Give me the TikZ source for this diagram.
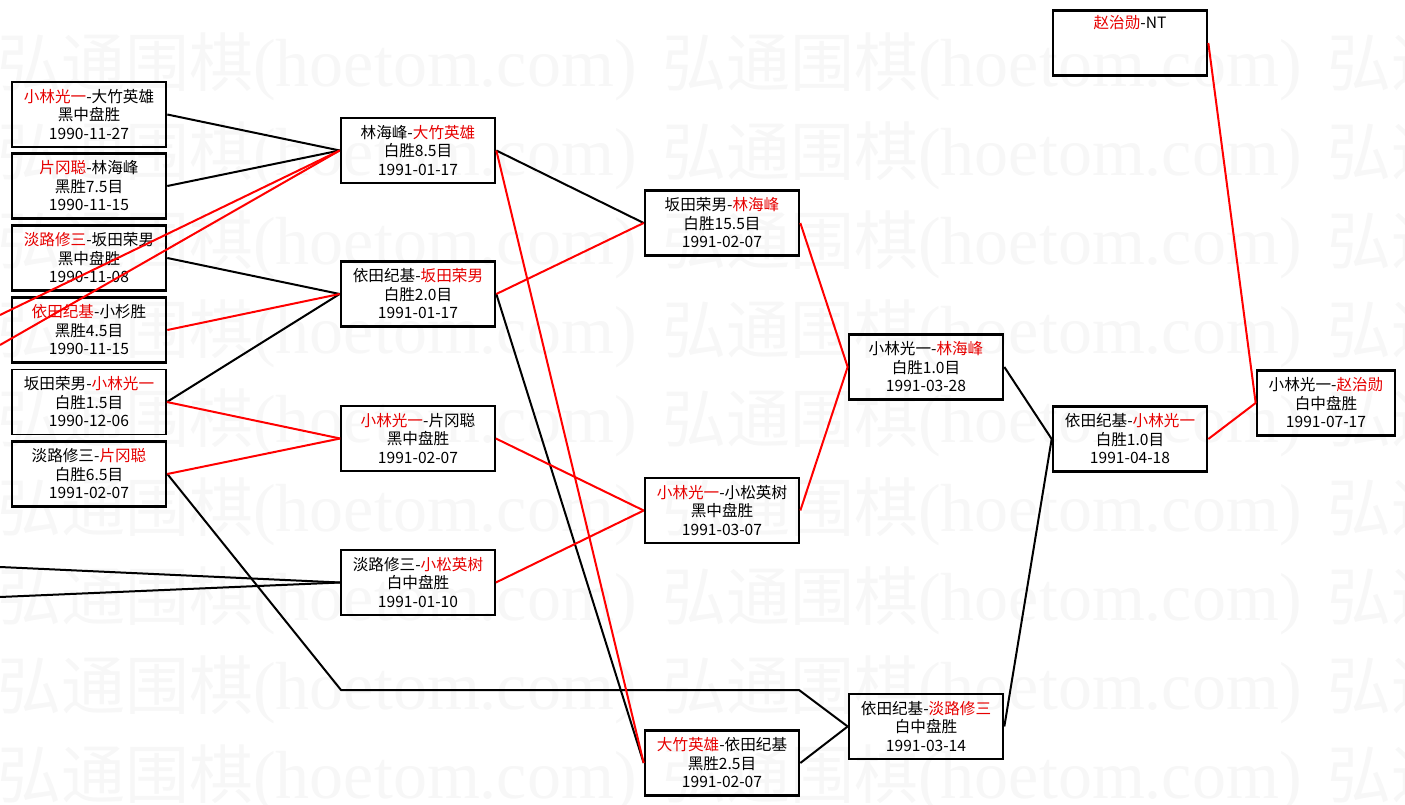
\documentclass[tikz,border=0pt]{standalone}
\usepackage{fontspec}
\newfontfamily\cjk{Noto Sans CJK SC}
\newfontfamily\wmlat{Liberation Serif}
\definecolor{wmgray}{gray}{0.968}
\definecolor{winred}{RGB}{230,0,0}
\newcommand\winr[1]{\textcolor{winred}{#1}}
\tikzset{
  game/.style={draw=black, line width=2pt, minimum width=115.5pt, minimum height=48.75pt,
    inner sep=0pt, align=center, font=\cjk\fontsize{11.7}{13.9}\selectfont},
  thinbox/.style={line width=1.3pt},
  narrowbox/.style={minimum width=103.5pt},
  wmark/.style={inner sep=0pt, anchor=west, text=wmgray},
  link/.style={line width=1.5pt, black},
  winlink/.style={line width=1.5pt, red},
}
\begin{document}
\begin{tikzpicture}[x=0.75pt,y=-0.75pt]
\useasboundingbox (0,0) rectangle (1405,805);
% watermark
\foreach \r in {0,...,8}{
  \foreach \c in {0,1,2}{
    \node[wmark] (wm-\r-\c) at ({-3+665*\c},{67+89*\r})
      {{\cjk\fontsize{48}{50}\selectfont 弘通围棋}{\wmlat\fontsize{51}{53}\selectfont (hoetom.com)}};
  }
}
% column 1
\node[game] (B1) at (89,114.5) {\winr{小林光一}-大竹英雄\\黑中盘胜\\1990-11-27};
\node[game] (B2) at (89,186) {\winr{片冈聪}-林海峰\\黑胜7.5目\\1990-11-15};
\node[game] (B3) at (89,258) {\winr{淡路修三}-坂田荣男\\黑中盘胜\\1990-11-08};
\node[game] (B4) at (89,330) {\winr{依田纪基}-小杉胜\\黑胜4.5目\\1990-11-15};
\node[game,thinbox] (B5) at (89,402) {坂田荣男-\winr{小林光一}\\白胜1.5目\\1990-12-06};
\node[game] (B6) at (89,474) {淡路修三-\winr{片冈聪}\\白胜6.5目\\1991-02-07};
% column 2
\node[game] (C1) at (418,150.5) {林海峰-\winr{大竹英雄}\\白胜8.5目\\1991-01-17};
\node[game] (C2) at (418,294) {依田纪基-\winr{坂田荣男}\\白胜2.0目\\1991-01-17};
\node[game,thinbox] (C3) at (418,438.5) {\winr{小林光一}-片冈聪\\黑中盘胜\\1991-02-07};
\node[game,thinbox] (C4) at (418,582.5) {淡路修三-\winr{小松英树}\\白中盘胜\\1991-01-10};
% column 3
\node[game] (D1) at (722,223) {坂田荣男-\winr{林海峰}\\白胜15.5目\\1991-02-07};
\node[game] (D2) at (722,510.5) {\winr{小林光一}-小松英树\\黑中盘胜\\1991-03-07};
\node[game] (D3) at (722,763) {\winr{大竹英雄}-依田纪基\\黑胜2.5目\\1991-02-07};
% column 4
\node[game] (E1) at (926,367) {小林光一-\winr{林海峰}\\白胜1.0目\\1991-03-28};
\node[game] (E2) at (926,726.5) {依田纪基-\winr{淡路修三}\\白中盘胜\\1991-03-14};
% column 5
\node[game] (F1) at (1130,43) {\winr{赵治勋}-NT\\\strut\\\strut};
\node[game] (F2) at (1130,439) {依田纪基-\winr{小林光一}\\白胜1.0目\\1991-04-18};
% column 6
\node[game,narrowbox] (G1) at (1326,403) {小林光一-\winr{赵治勋}\\白中盘胜\\1991-07-17};
% free ends and bends
\coordinate (l1) at (0,315);
\coordinate (l2) at (0,345);
\coordinate (l3) at (0,567);
\coordinate (l4) at (0,597);
\coordinate (k1) at (341,690);
\coordinate (k2) at (799,690);
% black connectors
\draw[link] (B1.east) -- (C1.west);
\draw[link] (B2.east) -- (C1.west);
\draw[link] (B3.east) -- (C2.west);
\draw[link] (B5.east) -- (C2.west);
\draw[link] (l3) -- (C4.west);
\draw[link] (l4) -- (C4.west);
\draw[link] (B6.east) -- (k1) -- (k2) -- (E2.west);
\draw[link] (C1.east) -- (D1.west);
\draw[link] (C2.east) -- (D3.west);
\draw[link] (D3.east) -- (E2.west);
\draw[link] (E1.east) -- (F2.west);
\draw[link] (E2.east) -- (F2.west);
% red connectors
\draw[winlink] (l1) -- (C1.west);
\draw[winlink] (l2) -- (C1.west);
\draw[winlink] (B4.east) -- (C2.west);
\draw[winlink] (B5.east) -- (C3.west);
\draw[winlink] (B6.east) -- (C3.west);
\draw[winlink] (C1.east) -- (D3.west);
\draw[winlink] (C2.east) -- (D1.west);
\draw[winlink] (C3.east) -- (D2.west);
\draw[winlink] (C4.east) -- (D2.west);
\draw[winlink] (D1.east) -- (E1.west);
\draw[winlink] (D2.east) -- (E1.west);
\draw[winlink] (F1.east) -- (G1.west);
\draw[winlink] (F2.east) -- (G1.west);
\end{tikzpicture}
\end{document}
